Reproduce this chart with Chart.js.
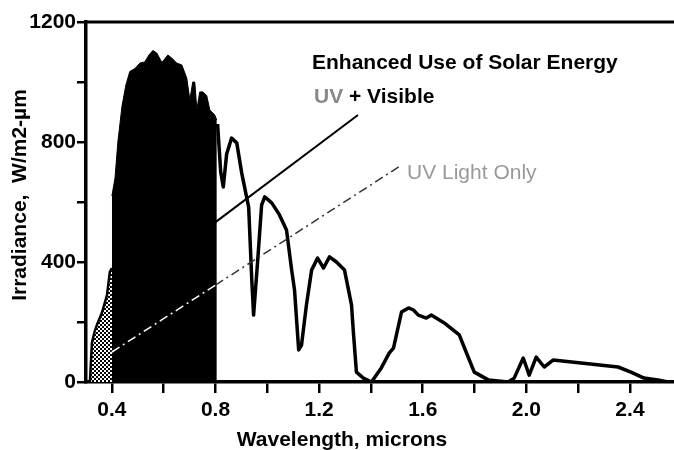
<!DOCTYPE html>
<html>
<head>
<meta charset="utf-8">
<script src="https://cdn.jsdelivr.net/npm/chart.js@4.4.1/dist/chart.umd.min.js"></script>
<style>
  html, body { margin: 0; padding: 0; background: #fff; }
  #wrap { width: 674px; height: 450px; }
</style>
</head>
<body>
<div id="wrap"><canvas id="solarChart" width="674" height="450"></canvas></div>
<script>
// Solar spectrum (wavelength in microns, irradiance W/m2-um)
const uvWave = [0.315, 0.323, 0.334, 0.342, 0.361, 0.381, 0.392, 0.400];
const uvIrr  = [0, 133, 170, 190, 230, 290, 367, 380];

const visWave = [0.400, 0.412, 0.423, 0.439, 0.454, 0.469, 0.489, 0.508, 0.527, 0.543,
                 0.558, 0.573, 0.593, 0.616, 0.631, 0.650, 0.670, 0.689, 0.701, 0.712,
                 0.720, 0.728, 0.739, 0.751, 0.766, 0.778, 0.797, 0.805];
const visIrr  = [620, 680, 800, 920, 990, 1035, 1045, 1063, 1067, 1090,
                 1105, 1097, 1065, 1090, 1080, 1063, 1057, 1013, 940, 1000,
                 1000, 907, 967, 967, 955, 907, 890, 873];

const irWave = [0.808, 0.820, 0.830, 0.843, 0.862, 0.882, 0.901, 0.928, 0.940, 0.947,
                0.963, 0.978, 0.990, 1.017, 1.047, 1.074, 1.094, 1.105, 1.121, 1.132,
                1.151, 1.171, 1.194, 1.217, 1.240, 1.267, 1.298, 1.325, 1.333, 1.344,
                1.371, 1.402, 1.440, 1.471, 1.487, 1.518, 1.545, 1.564, 1.583, 1.614,
                1.633, 1.683, 1.741, 1.772, 1.799, 1.853, 1.930, 1.953, 1.988, 2.011,
                2.038, 2.069, 2.103, 2.211, 2.354, 2.404, 2.454, 2.508, 2.546];
const irIrr  = [860, 700, 650, 760, 813, 797, 697, 583, 340, 223,
                407, 590, 617, 597, 557, 507, 373, 307, 107, 123,
                257, 373, 413, 380, 417, 400, 373, 257, 157, 33,
                13, 0, 47, 97, 113, 233, 247, 240, 223, 213,
                223, 197, 157, 90, 33, 7, 0, 13, 80, 23,
                83, 50, 73, 63, 50, 33, 13, 7, 0];

// "Enhanced use" lines
const visLineWave = [0.80, 1.35];
const visLineIrr  = [533, 890];
const uvLineWave  = [0.40, 0.80, 1.518];
const uvLineIrr   = [100, 323, 723];

// axes
const xTickValues = [0.4, 0.6, 0.8, 1.0, 1.2, 1.4, 1.6, 1.8, 2.0, 2.2, 2.4];
const xTickLabels = ["0.4", "0.8", "1.2", "1.6", "2.0", "2.4"];
const yTickLabels = [0, 400, 800, 1200];

const FONT = '"Liberation Sans", Arial, sans-serif';

function pts(xs, ys) {
  return xs.map((x, i) => ({ x: x, y: ys[i] }));
}

function stipple() {
  const c = document.createElement("canvas");
  c.width = 4; c.height = 4;
  const g = c.getContext("2d");
  g.fillStyle = "#fff";
  g.fillRect(0, 0, 4, 4);
  g.fillStyle = "#000";
  g.fillRect(0, 0, 2, 2);
  g.fillRect(2, 2, 2, 2);
  return g.createPattern(c, "repeat");
}

// labels, axis titles and the top frame line
const notes = {
  id: "notes",
  afterDraw(chart) {
    const ctx = chart.ctx;
    const area = chart.chartArea;
    ctx.save();
    ctx.strokeStyle = "#000";
    ctx.lineWidth = 3;
    ctx.beginPath();
    ctx.moveTo(area.left, area.top);
    ctx.lineTo(area.right, area.top);
    ctx.stroke();

    ctx.textBaseline = "middle";
    ctx.textAlign = "left";
    ctx.fillStyle = "#000";
    ctx.font = "bold 21px " + FONT;
    ctx.fillText("Enhanced Use of Solar Energy", 312, 63);

    ctx.fillStyle = "#888";
    ctx.fillText("UV", 314, 97);
    const w = ctx.measureText("UV").width;
    ctx.fillStyle = "#000";
    ctx.fillText(" + Visible", 314 + w, 97);

    ctx.fillStyle = "#999";
    ctx.font = "21px " + FONT;
    ctx.fillText("UV Light Only", 407, 173);

    ctx.fillStyle = "#000";
    ctx.font = "bold 21px " + FONT;
    ctx.textAlign = "center";
    ctx.fillText("Wavelength, microns", 342, 440);

    ctx.translate(20, 195);
    ctx.rotate(-Math.PI / 2);
    ctx.fillText("Irradiance,  W/m2-\u00b5m", 0, 0);
    ctx.restore();
  }
};

document.addEventListener("DOMContentLoaded", () => {
  const ctx = document.getElementById("solarChart").getContext("2d");

  new Chart(ctx, {
    type: "line",
    data: {
      datasets: [
        {
          // UV-only line, white where it crosses the black region
          data: pts(uvLineWave, uvLineIrr),
          borderColor: "#333",
          borderWidth: 1.5,
          borderDash: [9, 4, 2, 4],
          segment: {
            borderColor: c => (c.p1.parsed.x <= 0.8 ? "#fff" : "#333")
          },
          pointRadius: 0,
          fill: false
        },
        {
          data: pts(visWave, visIrr),
          borderColor: "#000",
          borderWidth: 1,
          backgroundColor: "#000",
          pointRadius: 0,
          fill: "origin"
        },
        {
          data: pts(uvWave, uvIrr),
          borderColor: "#000",
          borderWidth: 2.5,
          backgroundColor: stipple(),
          pointRadius: 0,
          fill: "origin"
        },
        {
          data: pts(irWave, irIrr),
          borderColor: "#000",
          borderWidth: 3.5,
          borderJoinStyle: "round",
          pointRadius: 0,
          fill: false
        },
        {
          data: pts(visLineWave, visLineIrr),
          borderColor: "#000",
          borderWidth: 2,
          pointRadius: 0,
          fill: false
        }
      ]
    },
    options: {
      responsive: false,
      animation: false,
      devicePixelRatio: 1,
      layout: { padding: { top: 22, right: 0, bottom: 0, left: 0 } },
      plugins: {
        legend: { display: false },
        tooltip: { enabled: false }
      },
      scales: {
        x: {
          type: "linear",
          min: 0.3,
          max: 2.57,
          afterBuildTicks: s => { s.ticks = xTickValues.map(v => ({ value: v })); },
          afterFit: s => { s.height = 68; },
          border: { display: true, color: "#000", width: 3.5 },
          grid: { drawOnChartArea: false, drawTicks: true, tickLength: 11, color: "#000", lineWidth: 2.5 },
          ticks: {
            color: "#000",
            padding: 5,
            maxRotation: 0,
            autoSkip: false,
            font: { family: FONT, size: 21, weight: "bold" },
            callback: v => {
              const t = v.toFixed(1);
              return xTickLabels.includes(t) ? t : "";
            }
          }
        },
        y: {
          min: 0,
          max: 1200,
          afterFit: s => { s.width = 86; },
          border: { display: true, color: "#000", width: 3.5 },
          grid: { drawOnChartArea: false, drawTicks: true, tickLength: 9, color: "#000", lineWidth: 2.5 },
          ticks: {
            stepSize: 200,
            color: "#000",
            padding: 1,
            font: { family: FONT, size: 21, weight: "bold" },
            callback: v => (yTickLabels.includes(v) ? String(v) : "")
          }
        }
      }
    },
    plugins: [notes]
  });
});
</script>
</body>
</html>
